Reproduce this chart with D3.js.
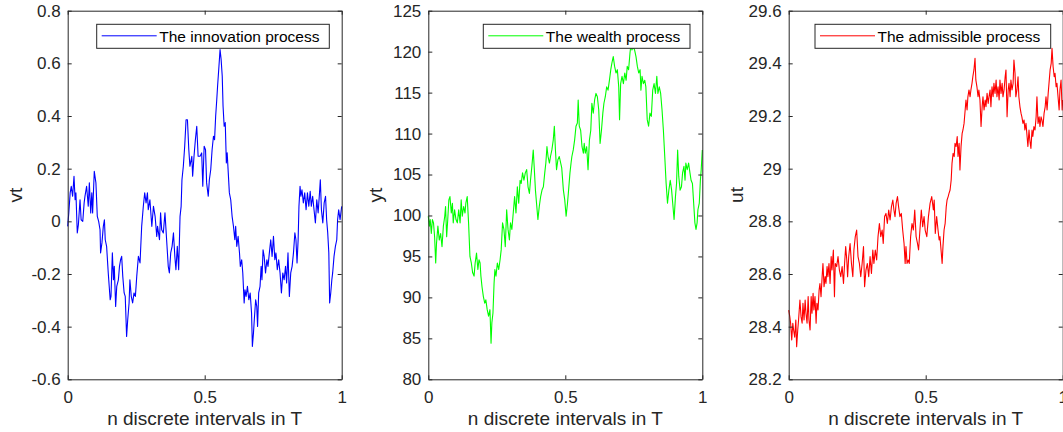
<!DOCTYPE html>
<html>
<head>
<meta charset="utf-8">
<script src="https://cdn.jsdelivr.net/npm/d3@7"></script>
<style>
  body { margin: 0; background: #fff; }
  svg { display: block; font-family: "Liberation Sans", Arial, sans-serif; }
</style>
</head>
<body>
<svg id="chart" width="1063" height="432"></svg>
<script>
// innovation process (vt)
var tV = [0,.004,.009,.013,.018,.023,.027,.030,.035,.039,.045,.049,.055,.060,.063,.069,.075,.079,.084,.088,.091,.097,.103,.108,.113,.118,.120,.125,.130,.134,.137,.142,.148,.155,.158,.163,.167,.170,.175,.179,.185,.189,.193,.197,.201,.206,.210,.215,.219,.224,.227,.232,.237,.242,.247,.252,.258,.264,.270,.276,.281,.286,.291,.294,.300,.307,.313,.319,.325,.328,.335,.339,.343,.349,.355,.361,.367,.371,.376,.381,.386,.391,.395,.400,.405,.410,.414,.417,.422,.427,.432,.437,.442,.446,.453,.456,.461,.466,.471,.476,
  .483,.489,.493,.498,.503,.507,.513,.517,.522,.527,.532,.536,.540,.544,.547,.552,.556,.560,.564,.567,.571,.575,.579,.582,.586,.590,.595,.600,.605,.610,.613,.617,.622,.627,.630,.635,.639,.644,.647,.651,.656,.661,.666,.671,.674,.678,.681,.686,.690,.693,.697,.702,.706,.709,.713,.717,.722,.727,.731,.736,.741,.746,.751,.756,.760,.765,.770,.775,.780,.785,.790,.795,.799,.804,.809,.814,.819,.824,.829,.833,.837,.841,.844,.848,.851,.855,.860,.865,.870,.875,.880,.885,.889,.894,.899,.904,.909,.914,.919,.922,.926,.931,.936,.941,.945,.949,.953,.956,.960,.964,.967,.972,.977,.982,.985,.989,.994,1];
var vData = [-.019,.032,.108,.133,.095,.171,.082,.108,-.044,-.013,.082,.006,0,.070,.095,.133,.057,.146,.032,.108,.032,.190,.146,.019,0,-.032,-.120,-.082,-.019,.006,-.070,-.095,-.196,-.298,-.285,-.120,-.222,-.171,-.323,-.247,-.222,-.171,-.146,-.133,-.209,-.272,-.285,-.437,-.374,-.310,-.222,-.285,-.310,-.272,-.285,-.209,-.133,-.158,-.019,.057,.108,.070,.108,.044,.082,-.019,.057,.019,-.057,-.019,-.070,.032,-.032,-.044,.032,-.070,-.171,-.196,-.120,-.095,-.044,-.133,-.184,-.095,-.184,.019,.057,.158,.209,.285,.386,.386,.272,.209,.247,.171,.247,.310,.361,.247,
  .247,.260,.133,.285,.272,.146,.095,.158,.196,.272,.323,.310,.399,.462,.513,.589,.652,.614,.551,.437,.361,.375,.222,.260,.184,.108,.082,.019,-.019,-.070,-.019,-.095,-.057,-.120,-.171,-.146,-.196,-.310,-.260,-.285,-.247,-.298,-.272,-.348,-.475,-.424,-.374,-.298,-.323,-.399,-.272,-.247,-.171,-.222,-.108,-.133,-.196,-.146,-.171,-.120,-.070,-.133,-.057,-.146,-.120,-.184,-.146,-.196,-.272,-.196,-.222,-.171,-.234,-.120,-.285,-.196,-.171,-.120,-.044,-.070,-.158,-.070,.057,.133,.095,.120,.070,.108,.044,.108,.057,.114,.057,.095,.044,-.006,.082,.032,.108,.158,.044,-.006,.070,.095,.006,-.044,-.120,-.310,-.272,-.222,-.196,-.133,-.095,-.070,.006,.044,.006,.057];

// wealth process (yt)
var tY = [0,.004,.007,.011,.015,.019,.023,.027,.030,.035,.040,.045,.050,.055,.060,.063,.067,.071,.075,.079,.084,.088,.091,.096,.101,.106,.111,.116,.120,.124,.129,.134,.137,.142,.147,.152,.157,.162,.167,.171,.176,.181,.185,.189,.192,.196,.201,.206,.210,.215,.220,.225,.229,.232,.236,.240,.243,.247,.252,.257,.262,.266,.271,.276,.281,.286,.291,.296,.300,.305,.310,.315,.320,.325,.330,.335,.339,.344,.349,.354,.359,.364,.369,.373,.378,.383,.387,.391,.395,.400,.405,.410,.415,.420,.425,.429,.433,.437,.442,.446,.451,.456,.460,.464,.468,.473,.478,
  .487,.493,.498,.503,.508,.512,.517,.521,.524,.529,.534,.539,.544,.547,.551,.556,.561,.566,.569,.573,.578,.583,.588,.593,.597,.602,.607,.612,.617,.622,.627,.632,.637,.641,.646,.651,.656,.661,.666,.670,.675,.680,.685,.690,.695,.698,.702,.707,.712,.717,.722,.726,.731,.736,.740,.743,.748,.753,.758,.763,.768,.773,.776,.780,.785,.790,.794,.799,.804,.809,.814,.819,.824,.829,.834,.838,.843,.848,.853,.858,.863,.868,.873,.878,.883,.888,.892,.897,.902,.906,.910,.914,.919,.924,.928,.933,.937,.940,.945,.950,.955,.959,.964,.970,.973,.977,.981,.984,.989,.993,.996,1];
var yData = [99.9,98.7,99.5,97.8,99.5,99.1,97.4,94.2,96.6,98.7,97.0,97.8,96.2,98.7,99.9,101.1,97.4,99.5,101.9,102.3,100.3,101.5,99.1,100.7,99.5,99.1,100.7,99.1,101.9,99.9,101.1,100.3,101.5,102.3,99.1,95.0,94.2,93.0,92.6,94.2,95.4,93.4,94.6,94.2,92.6,91.3,90.1,89.3,89.7,88.5,87.7,88.5,84.4,86.9,88.1,91.7,93.4,92.6,94.2,93.4,94.6,95.8,99.1,98.3,96.2,100.7,98.3,97.0,99.1,98.3,100.3,102.3,100.3,103.5,101.5,104.3,103.9,105.2,104.3,105.2,105.6,103.5,102.7,104.3,106.0,108.0,105.6,103.1,101.5,99.5,101.1,102.3,103.1,103.5,105.2,106.4,108.4,107.2,106.4,107.2,108.0,109.2,110.9,108.0,105.6,106.8,107.2,
  105.8,103.1,101.9,99.9,101.5,103.1,105.2,106.4,107.2,108.0,109.2,110.9,111.3,114.1,110.9,110.4,108.4,107.6,108.8,107.6,108.4,105.6,109.2,110.4,113.7,112.5,114.1,114.9,114.5,112.9,108.8,110.4,112.5,113.7,114.5,115.7,115.3,116.5,117.8,118.6,119.4,118.2,117.4,117.8,115.7,111.7,116.1,117.0,116.1,117.4,116.5,118.2,117.8,119.8,121.0,120.2,120.6,120.2,119.4,118.2,117.4,117.8,115.3,117.0,116.1,116.5,115.7,111.7,110.9,112.5,112.1,115.3,116.1,114.9,117.0,114.9,115.7,114.9,112.9,110.4,107.2,103.9,101.5,103.1,104.3,103.1,101.5,99.5,102.3,103.9,108.0,104.8,103.1,103.5,105.2,106.0,104.3,106.4,105.6,106.4,105.2,104.3,103.9,100.7,99.1,98.3,99.1,100.7,101.5,104.3,105.6,108.0];

// admissible process (ut)
var tU = [0,.004,.007,.011,.015,.018,.022,.026,.029,.033,.036,.041,.045,.049,.052,.056,.060,.063,.067,.071,.074,.078,.082,.085,.089,.092,.096,.100,.103,.107,.111,.114,.118,.122,.125,.129,.133,.136,.140,.143,.147,.151,.155,.158,.163,.167,.170,.175,.180,.185,.190,.195,.200,.204,.208,.212,.215,.219,.224,.229,.234,.238,.243,.248,.253,.258,.263,.268,.273,.277,.282,.287,.292,.297,.302,.307,.311,.316,.321,.326,.331,.336,.341,.345,.350,.355,.360,.365,.370,.375,.380,.384,.388,.392,.397,.401,.406,.411,.416,.421,.425,.428,.432,.436,.440,.445,.450,.455,.460,.465,.470,.474,.479,.484,.489,.494,.498,.504,.510,
  .516,.522,.528,.531,.535,.540,.545,.549,.552,.556,.560,.563,.567,.571,.575,.578,.582,.585,.589,.593,.596,.600,.604,.607,.611,.615,.618,.622,.625,.629,.633,.636,.640,.644,.647,.651,.654,.658,.662,.665,.669,.672,.676,.680,.683,.687,.691,.694,.698,.702,.706,.709,.713,.717,.720,.724,.728,.731,.735,.738,.742,.746,.749,.753,.757,.760,.764,.768,.771,.775,.779,.782,.786,.790,.793,.797,.801,.804,.808,.811,.815,.819,.822,.826,.829,.833,.837,.840,.844,.848,.851,.855,.859,.862,.866,.870,.873,.877,.880,.884,.888,.891,.895,.899,.903,.906,.910,.914,.917,.921,.924,.928,.932,.936,.939,.943,.947,.950,.954,.958,.961,.965,.969,.972,.976,.979,.983,.987,.990,.994,.998,1];
var uData = [28.463,28.438,28.413,28.349,28.413,28.387,28.360,28.425,28.324,28.387,28.425,28.501,28.438,28.413,28.489,28.425,28.501,28.451,28.413,28.514,28.425,28.387,28.514,28.451,28.527,28.463,28.514,28.413,28.489,28.463,28.539,28.564,28.514,28.590,28.640,28.552,28.590,28.564,28.628,28.590,28.640,28.564,28.666,28.615,28.691,28.514,28.640,28.628,28.666,28.615,28.590,28.628,28.564,28.640,28.704,28.653,28.590,28.666,28.716,28.640,28.590,28.691,28.742,28.767,28.666,28.640,28.590,28.640,28.704,28.552,28.615,28.640,28.590,28.666,28.602,28.691,28.640,28.691,28.653,28.742,28.792,28.742,28.767,28.716,28.818,28.830,28.792,28.843,28.805,28.856,28.881,28.843,28.818,28.868,28.894,28.856,28.818,28.830,28.767,28.716,28.640,28.704,28.640,28.653,28.640,28.742,28.792,28.767,28.843,28.742,28.716,28.691,28.767,28.843,28.780,28.818,28.767,28.742,28.818,
  28.868,28.894,28.843,28.881,28.754,28.818,28.767,28.729,28.742,28.691,28.640,28.704,28.767,28.792,28.856,28.881,28.894,28.906,28.919,28.957,29.020,29.058,29.046,29.096,29.084,29.122,29.046,29.096,28.995,29.084,29.134,29.147,29.172,29.223,29.261,29.223,29.273,29.299,29.273,29.299,29.324,29.349,29.375,29.419,29.337,29.311,29.273,29.299,29.261,29.160,29.235,29.273,29.223,29.261,29.235,29.286,29.248,29.273,29.299,29.235,29.311,29.273,29.324,29.286,29.337,29.273,29.311,29.261,29.337,29.286,29.324,29.273,29.299,29.349,29.375,29.197,29.299,29.324,29.273,29.337,29.299,29.324,29.413,29.362,29.273,29.299,29.349,29.273,29.235,29.210,29.197,29.172,29.185,29.147,29.172,29.122,29.084,29.147,29.109,29.077,29.147,29.122,29.160,29.147,29.197,29.273,29.172,29.197,29.160,29.197,29.185,29.160,29.210,29.235,29.273,29.223,29.286,29.324,29.375,29.400,29.457,29.387,29.349,29.362,29.311,29.324,29.273,29.223,29.299,29.337,29.223,29.261];

var xTicks = [0, 0.5, 1];
var vTicks = [-0.6, -0.4, -0.2, 0, 0.2, 0.4, 0.6, 0.8];
var yTicks = [80, 85, 90, 95, 100, 105, 110, 115, 120, 125];
var uTicks = [28.2, 28.4, 28.6, 28.8, 29, 29.2, 29.4, 29.6];

var svg = d3.select('#chart');
var top_ = 10.7, bottom_ = 379.3, panelW = 274;
var axisCol = '#262626';
var fmt = function(d) { return String(+d.toFixed(1)); };

function drawPanel(left, t, vals, yDomain, ticks, color, ylab, legendText, legendX, legendW) {
  var g = svg.append('g');
  var x = d3.scaleLinear().domain([0, 1]).range([left, left + panelW]);
  var y = d3.scaleLinear().domain(yDomain).range([bottom_, top_]);

  var line = d3.line().x(function(d, i) { return x(t[i]); }).y(function(d) { return y(d); });
  g.append('path')
    .attr('d', line(vals))
    .attr('fill', 'none')
    .attr('stroke', color)
    .attr('stroke-width', 1.1)
    .attr('stroke-linejoin', 'round');

  // box with inward ticks on all sides
  g.append('g').attr('transform', 'translate(0,' + bottom_ + ')')
    .call(d3.axisBottom(x).tickValues(xTicks).tickFormat(fmt).tickSizeInner(-4).tickSizeOuter(0).tickPadding(12));
  g.append('g').attr('transform', 'translate(0,' + top_ + ')')
    .call(d3.axisTop(x).tickValues(xTicks).tickFormat('').tickSizeInner(-4).tickSizeOuter(0));
  g.append('g').attr('transform', 'translate(' + left + ',0)')
    .call(d3.axisLeft(y).tickValues(ticks).tickFormat(fmt).tickSizeInner(-4).tickSizeOuter(0).tickPadding(7));
  g.append('g').attr('transform', 'translate(' + (left + panelW) + ',0)')
    .call(d3.axisRight(y).tickValues(ticks).tickFormat('').tickSizeInner(-4).tickSizeOuter(0));
  g.selectAll('.domain').attr('stroke', axisCol).attr('stroke-width', 1);
  g.selectAll('.tick line').attr('stroke', axisCol);
  g.selectAll('.tick text').attr('fill', axisCol).style('font-size', '17px');

  g.append('text')
    .attr('transform', 'translate(' + (left - 46) + ',' + ((top_ + bottom_) / 2) + ') rotate(-90)')
    .attr('text-anchor', 'middle')
    .attr('fill', axisCol)
    .style('font-size', '19px')
    .text(ylab);
  g.append('text')
    .attr('x', left + panelW / 2)
    .attr('y', 425)
    .attr('text-anchor', 'middle')
    .attr('fill', axisCol)
    .style('font-size', '19px')
    .text('n discrete intervals in T');

  // legend
  var lg = g.append('g').attr('transform', 'translate(' + legendX + ',24.3)');
  lg.append('rect').attr('width', legendW).attr('height', 24)
    .attr('fill', '#fff').attr('stroke', axisCol).attr('stroke-width', 1);
  lg.append('line').attr('x1', 5).attr('x2', 60).attr('y1', 11.5).attr('y2', 11.5)
    .attr('stroke', color).attr('stroke-width', 1);
  lg.append('text').attr('x', 62.5).attr('y', 18)
    .attr('fill', '#000').style('font-size', '15.5px').text(legendText);
}

drawPanel(67.7, tV, vData, [-0.6, 0.8], vTicks, '#0000ff', 'vt', 'The innovation process', 96.7, 232.6);
drawPanel(428.3, tY, yData, [80, 125], yTicks, '#00ff00', 'yt', 'The wealth process', 483.3, 206.7);
drawPanel(788.7, tU, uData, [28.2, 29.6], uTicks, '#ff0000', 'ut', 'The admissible process', 815, 235.7);
</script>
</body>
</html>
